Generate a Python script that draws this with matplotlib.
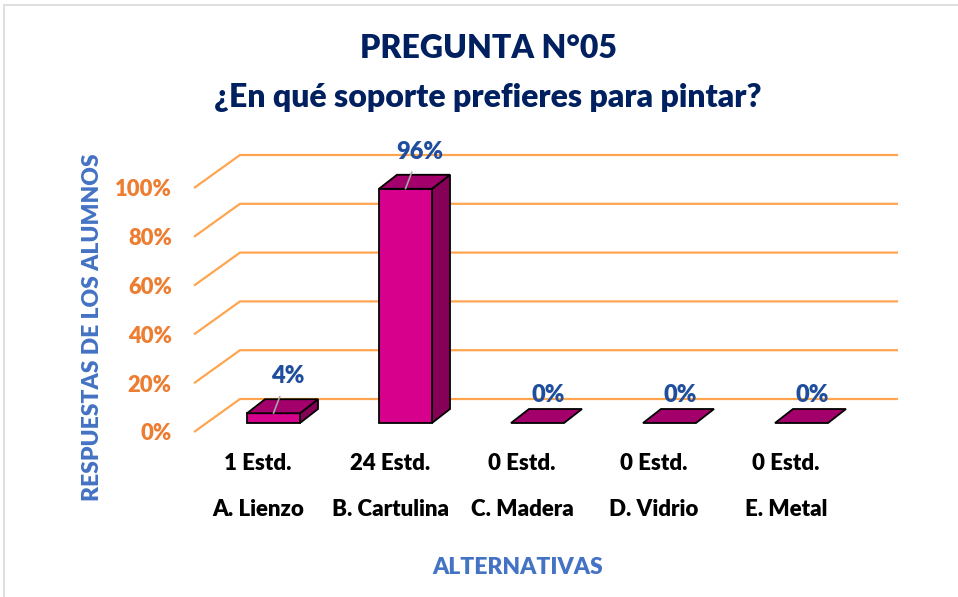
import matplotlib
matplotlib.use("Agg")
import matplotlib.pyplot as plt
from matplotlib.patches import Polygon, Rectangle

plt.rcParams['font.family'] = ['Lato', 'DejaVu Sans']
WT = "heavy"

categories = ["A. Lienzo", "B. Cartulina", "C. Madera", "D. Vidrio", "E. Metal"]
counts = [1, 24, 0, 0, 0]
percents = [4, 96, 0, 0, 0]
yticks = [0, 20, 40, 60, 80, 100]
ytick_labels = ["0%", "20%", "40%", "60%", "80%", "100%"]

W, H = 958, 597
fig = plt.figure(figsize=(W / 100, H / 100), dpi=100)
fig.patch.set_facecolor("white")

# axes = front plane of the pseudo-3D chart
px_left, px_right, px_y0, px_y100 = 194, 898, 432, 188
ax = fig.add_axes([px_left / W, 1 - px_y0 / H, (px_right - px_left) / W, (px_y0 - px_y100) / H])
cat_px0, cat_step = 258, 132
ax.set_xlim((px_left - cat_px0) / cat_step, (px_right - cat_px0) / cat_step)
ax.set_ylim(0, 100)
ax.patch.set_alpha(0)
for s in ax.spines.values():
    s.set_visible(False)

xs_per_px = 1 / cat_step
ys_per_px = 100 / (px_y0 - px_y100)

# walls
wall_dx = 46 * xs_per_px
wall_dy = 33 * ys_per_px
x0, x1 = ax.get_xlim()
grid_color = "#FFA550"
for v in yticks:
    ax.plot([x0, x0 + wall_dx, x1], [v, v + wall_dy, v + wall_dy],
            color=grid_color, lw=1.6, clip_on=False, zorder=1, solid_capstyle="butt")

ax.set_yticks(yticks, ytick_labels)
ax.tick_params(axis="y", length=0, pad=16, labelcolor="#ED7D31", labelsize=15.8)
for t in ax.get_yticklabels():
    t.set_fontweight(WT)
ax.set_xticks([])

# bars
bar_off_x = -11 * xs_per_px
bar_w = 53 * xs_per_px
base = 9 * ys_per_px
dx = 18 * xs_per_px
dy = 14 * ys_per_px
front_c = "#D6008C"
top_c = "#A3006B"
side_c = "#870058"
for i, p in enumerate(percents):
    xl = i + bar_off_x
    b = base
    h = p
    if h > 0:
        ax.add_patch(Polygon([(xl + bar_w, b), (xl + bar_w + dx, b + dy),
                              (xl + bar_w + dx, b + h + dy), (xl + bar_w, b + h)],
                             closed=True, fc=side_c, ec="black", lw=1.3, clip_on=False, zorder=3))
        ax.add_patch(Polygon([(xl, b), (xl + bar_w, b), (xl + bar_w, b + h), (xl, b + h)],
                             closed=True, fc=front_c, ec="black", lw=1.3, clip_on=False, zorder=3))
    ax.add_patch(Polygon([(xl, b + h), (xl + bar_w, b + h), (xl + bar_w + dx, b + h + dy),
                          (xl + dx, b + h + dy)],
                         closed=True, fc=top_c, ec="black", lw=1.3, clip_on=False, zorder=3))
    # data labels
    anchor = (xl + bar_w / 2, b + h)
    if h > 0:
        ax.annotate(f"{p}%", xy=anchor, xytext=(14, 37), textcoords="offset pixels",
                    ha="center", va="center", fontsize=17, fontweight=WT, color="#1F4E9C",
                    arrowprops=dict(arrowstyle="-", color="#A6A6A6", lw=1.2, shrinkA=5, shrinkB=0),
                    zorder=5, annotation_clip=False)
    else:
        ax.annotate(f"{p}%", xy=anchor, xytext=(11, 28), textcoords="offset pixels",
                    ha="center", va="center", fontsize=17, fontweight=WT, color="#1F4E9C",
                    zorder=5, annotation_clip=False)

# category labels
for i, (c, n) in enumerate(zip(categories, counts)):
    ax.annotate(f"{n} Estd.", xy=(i, 0), xytext=(0, -31), textcoords="offset pixels",
                ha="center", va="center", fontsize=16, fontweight=WT, color="black",
                annotation_clip=False)
    ax.annotate(c, xy=(i, 0), xytext=(0, -78), textcoords="offset pixels",
                ha="center", va="center", fontsize=16, fontweight=WT, color="black",
                annotation_clip=False)

# titles
fig.text(488 / W, 1 - 49 / H, "PREGUNTA N°05", ha="center", va="center",
         fontsize=23, fontweight=WT, color="#002060")
fig.text(488 / W, 1 - 97 / H, "¿En qué soporte prefieres para pintar?", ha="center", va="center",
         fontsize=23, fontweight=WT, color="#002060")
fig.text(93 / W, 1 - 327 / H, "RESPUESTAS DE LOS ALUMNOS", ha="center", va="center",
         rotation=90, fontsize=16.5, fontweight=WT, color="#4472C4")
fig.text(518 / W, 1 - 568 / H, "ALTERNATIVAS", ha="center", va="center",
         fontsize=16.5, fontweight=WT, color="#4472C4")

# outer border
fig.add_artist(Rectangle((4 / W, -0.05), (W + 20) / W, 1 - 5 / H + 0.05,
                         transform=fig.transFigure, fill=False, ec="#D9D9D9", lw=1.2))

fig.savefig("out.png", dpi=100)
